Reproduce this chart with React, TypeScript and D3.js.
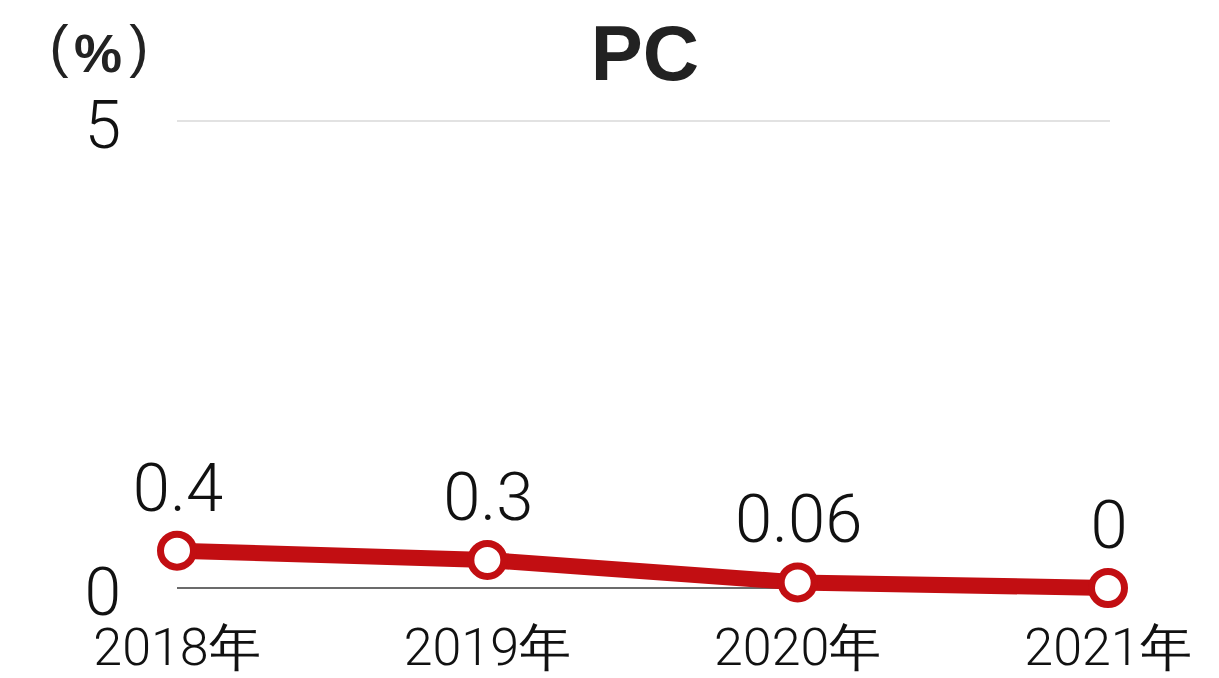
import React from "react";
import * as d3 from "d3";

const years = ["2018年", "2019年", "2020年", "2021年"];
const values = [0.4, 0.3, 0.06, 0];
const valueLabels = ["0.4", "0.3", "0.06", "0"];
const yTicks = [0, 5];

const W = 1219;
const H = 678;
const FONT = "Roboto, 'Liberation Sans', Arial, sans-serif";
const TITLE_FONT = "'Liberation Sans', Arial, sans-serif";
const RED = "#c20e12";

export default function App() {
  const x = d3.scalePoint<string>().domain(years).range([177, 1108]).padding(0);
  const y = d3.scaleLinear().domain([0, 5]).range([588, 121]);

  const line = d3
    .line<number>()
    .x((_, i) => x(years[i]) as number)
    .y((d) => y(d));

  return (
    <svg
      width={W}
      height={H}
      style={{ position: "absolute", left: 0, top: 0, background: "#fff" }}
    >
      {/* title */}
      <text
        x={645}
        y={80}
        textAnchor="middle"
        fontFamily={TITLE_FONT}
        fontWeight="bold"
        fontSize={78}
        fill="#222"
      >
        PC
      </text>

      {/* unit */}
      <g fontFamily={TITLE_FONT} fill="#222">
        <text x={59} y={66} textAnchor="middle" fontSize={58} fontWeight={300}>(</text>
        <text x={98} y={72} textAnchor="middle" fontSize={54} fontWeight="bold">%</text>
        <text x={139} y={66} textAnchor="middle" fontSize={58} fontWeight={300}>)</text>
      </g>

      {/* grid and baseline */}
      {yTicks.map((t) => (
        <g key={t}>
          <line
            x1={177}
            x2={1110}
            y1={y(t)}
            y2={y(t)}
            stroke={t === 0 ? "#6b6b6b" : "#e2e2e2"}
            strokeWidth={2}
          />
          <text
            x={121}
            y={y(t) + 27}
            textAnchor="end"
            fontFamily={FONT}
            fontWeight={300}
            fontSize={66}
            fill="#111"
          >
            {t}
          </text>
        </g>
      ))}

      {/* category labels */}
      {years.map((yr) => (
        <text
          key={yr}
          x={x(yr) as number}
          y={665}
          textAnchor="middle"
          fontFamily={FONT}
          fontWeight={300}
          fontSize={52}
          fill="#111"
        >
          {yr}
        </text>
      ))}

      {/* series line */}
      <path
        d={line(values) || ""}
        fill="none"
        stroke={RED}
        strokeWidth={16}
        strokeLinejoin="round"
      />

      {/* markers */}
      {values.map((v, i) => (
        <circle
          key={i}
          cx={x(years[i]) as number}
          cy={y(v)}
          r={16.5}
          fill="#fff"
          stroke={RED}
          strokeWidth={7}
        />
      ))}

      {/* value labels */}
      {values.map((v, i) => (
        <text
          key={i}
          x={(x(years[i]) as number) + 1}
          y={y(v) - 40}
          textAnchor="middle"
          fontFamily={FONT}
          fontWeight={300}
          fontSize={67}
          fill="#111"
        >
          {valueLabels[i]}
        </text>
      ))}
    </svg>
  );
}
